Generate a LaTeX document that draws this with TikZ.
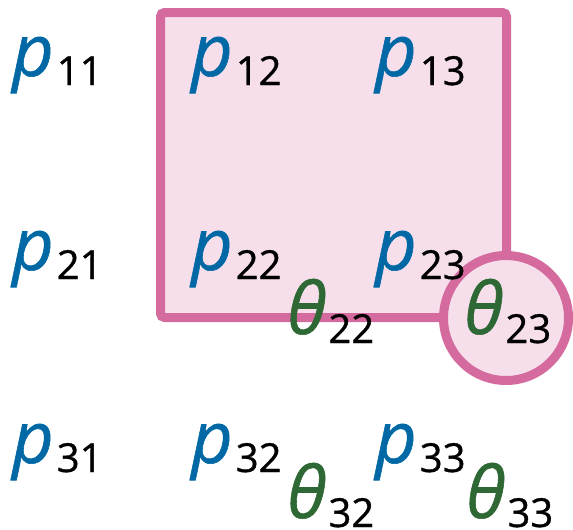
\documentclass[tikz,border=0pt]{standalone}
\usepackage{fontspec}
\setmainfont{Open Sans}
\newfontfamily\lblfont{Open Sans}[FakeBold=0.8]
\usepackage{xcolor}
\usetikzlibrary{positioning}

\definecolor{pblue}{RGB}{0,104,165}
\definecolor{tgreen}{RGB}{46,104,52}
\definecolor{winline}{RGB}{212,106,158}
\definecolor{winfill}{RGB}{246,223,235}

% variable with lowered index
\newcommand{\pvar}[1]{\textit{p}\kern3pt\raisebox{-9pt}{\color{black}\fontsize{40pt}{42pt}\selectfont #1}}
\newcommand{\tvar}[1]{\textit{θ}\kern2pt\raisebox{-9pt}{\color{black}\fontsize{40pt}{42pt}\selectfont #1}}

\begin{document}
\begin{tikzpicture}[
  x=1pt, y=-1pt,
  lbl/.style={anchor=base west, inner sep=0pt, font=\lblfont\fontsize{72pt}{80pt}\selectfont},
  pv/.style={lbl, text=pblue},
  tv/.style={lbl, text=tgreen},
  win/.style={rectangle, rounded corners=4pt, draw=winline, fill=winfill, line width=9pt},
  ring/.style={circle, draw=winline, fill=winfill, line width=9pt}
]
\useasboundingbox (0,0) rectangle (573,530);

% Column x and row baselines
\def\cA{12}
\def\cB{191}
\def\cC{375}
\def\rA{76}
\def\rB{270}
\def\rC{463}

% Window and ring
\node[win, minimum width=346pt, minimum height=305pt] (box) at (333.5,165) {};
\node[ring, minimum size=125pt] (ring) at (506,318) {};

% p grid
\node[pv] (p11) at (\cA,\rA) {\pvar{11}};
\node[pv] (p12) at (\cB,\rA) {\pvar{12}};
\node[pv] (p13) at (\cC,\rA) {\pvar{13}};
\node[pv] (p21) at (\cA,\rB) {\pvar{21}};
\node[pv] (p22) at (\cB,\rB) {\pvar{22}};
\node[pv] (p23) at (\cC,\rB) {\pvar{23}};
\node[pv] (p31) at (\cA,\rC) {\pvar{31}};
\node[pv] (p32) at (\cB,\rC) {\pvar{32}};
\node[pv] (p33) at (\cC,\rC) {\pvar{33}};

% thetas
\node[tv] (t22) at (287,334) {\tvar{22}};
\node[tv] (t23) at (464,334) {\tvar{23}};
\node[tv] (t32) at (287,518) {\tvar{32}};
\node[tv] (t33) at (466,518) {\tvar{33}};
\end{tikzpicture}
\end{document}
